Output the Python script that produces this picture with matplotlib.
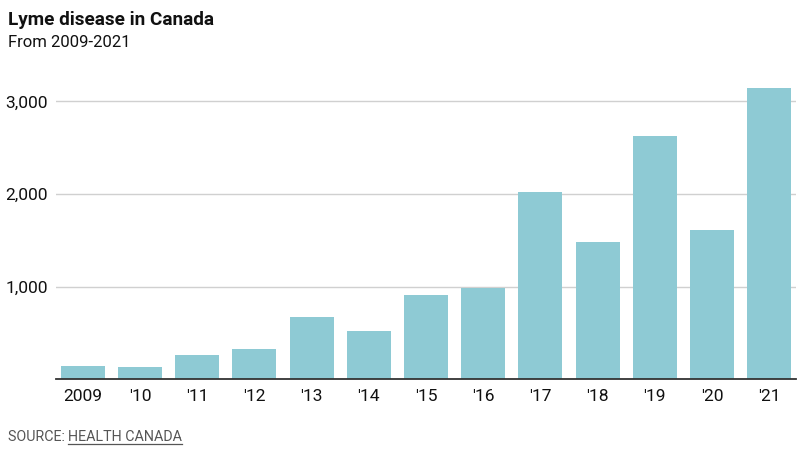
import matplotlib
matplotlib.use("Agg")
import matplotlib.pyplot as plt
from matplotlib import font_manager as fm

names = {f.name for f in fm.fontManager.ttflist}
cond = "Liberation Sans Narrow" if "Liberation Sans Narrow" in names else "Roboto"
plt.rcParams['font.family'] = [cond, 'DejaVu Sans']

years = ["2009", "'10", "'11", "'12", "'13", "'14", "'15", "'16", "'17", "'18", "'19", "'20", "'21"]
cases = [144, 133, 262, 327, 672, 521, 910, 985, 2021, 1482, 2626, 1611, 3144]
yticks = [1000, 2000, 3000]
ytick_labels = ["1,000", "2,000", "3,000"]

W, H = 801, 449
fig = plt.figure(figsize=(W / 100, H / 100), dpi=100)
ax = fig.add_axes([56 / W, (H - 379.3) / H, 740 / W, 296.5 / H])

x = list(range(len(years)))
ax.bar(x, cases, width=0.77, color="#8ecad4", zorder=2)
ax.set_xlim(-0.47, len(years) - 1 + 0.47)
ax.set_ylim(0, 3200)
ax.set_yticks(yticks)
ax.set_yticklabels(ytick_labels)
ax.set_xticks(x)
ax.set_xticklabels(years)
ax.grid(axis="y", color="#d0d0d0", linewidth=1, zorder=0)
for s in ["top", "right", "left"]:
    ax.spines[s].set_visible(False)
ax.spines["bottom"].set_color("#333333")
ax.spines["bottom"].set_linewidth(1.3)
ax.spines["bottom"].set_zorder(3)
ax.tick_params(axis="both", length=0, labelsize=12.5, colors="#111111")
ax.tick_params(axis="x", pad=7)
ax.tick_params(axis="y", pad=6)

fig.text(8 / W, 1 - 25 / H, "Lyme disease in Canada", fontsize=13.6, fontweight="bold", color="#111111", ha="left", va="baseline")
fig.text(8 / W, 1 - 47 / H, "From 2009-2021", fontsize=12, color="#111111", ha="left", va="baseline")
t1 = fig.text(8 / W, 1 - 441 / H, "SOURCE: ", fontsize=10.3, color="#555555", ha="left", va="baseline")
fig.canvas.draw()
r = fig.canvas.get_renderer()
bb = t1.get_window_extent(r)
t2 = fig.text(bb.x1 / W, 1 - 441 / H, "HEALTH CANADA", fontsize=10.3, color="#555555", ha="left", va="baseline")
fig.canvas.draw()
bb2 = t2.get_window_extent(r)
fig.add_artist(plt.Line2D([bb2.x0 / W, bb2.x1 / W], [(H - 443.5) / H] * 2, color="#555555", linewidth=0.9))

fig.savefig("out.png", dpi=100)
